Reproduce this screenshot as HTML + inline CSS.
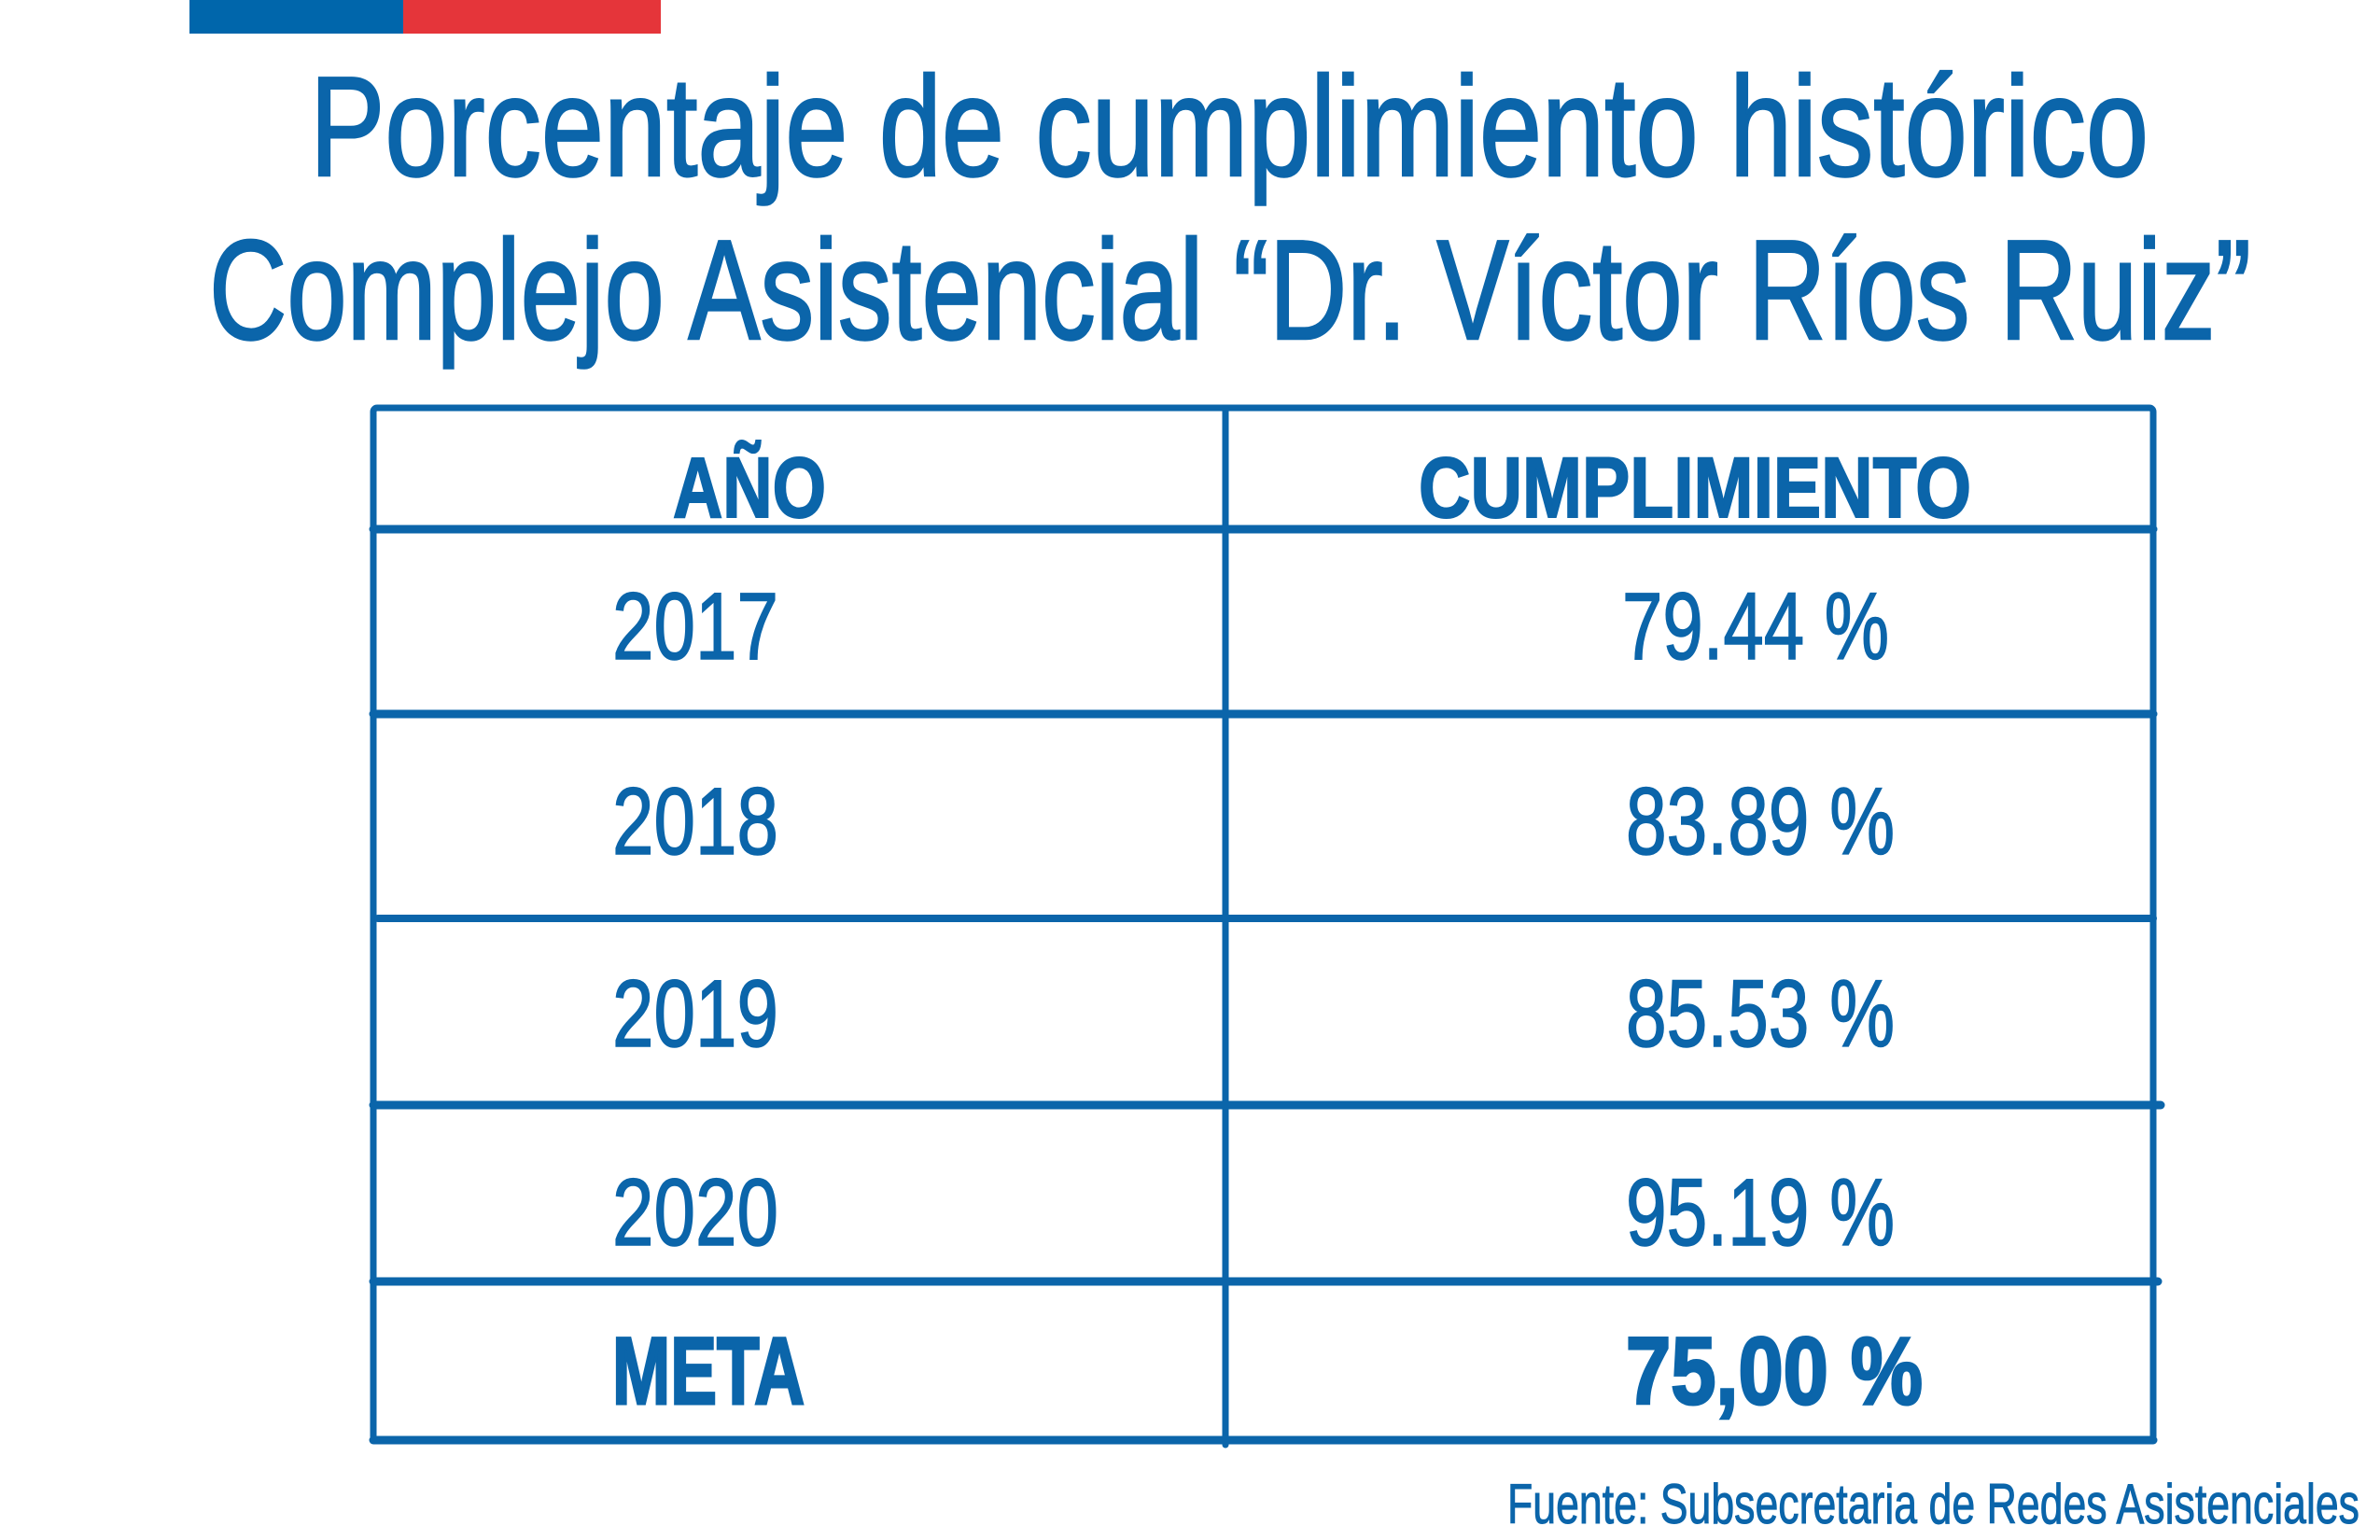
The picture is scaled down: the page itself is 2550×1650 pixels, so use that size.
<!DOCTYPE html>
<html><head><meta charset="utf-8"><style>
html,body{margin:0;padding:0;background:#fff;}
svg{display:block;}
text{font-family:"Liberation Sans",sans-serif;fill:#0b65aa;}
</style></head><body>
<svg width="2550" height="1650" viewBox="0 0 2550 1650" xmlns="http://www.w3.org/2000/svg">
<rect x="203" y="0" width="229" height="36" fill="#0066ab"/>
<rect x="432" y="0" width="276" height="36" fill="#e5353a"/>
<g stroke="#0b65aa" stroke-width="2.5">
<text x="332" y="188" font-size="152" textLength="1970" lengthAdjust="spacingAndGlyphs">Porcentaje de cumplimiento histórico</text>
<text x="224" y="363" font-size="152" textLength="2188" lengthAdjust="spacingAndGlyphs">Complejo Asistencial “Dr. Víctor Ríos Ruiz”</text>
</g>
<g stroke="#0b65aa" stroke-width="7" fill="none" stroke-linecap="round">
<rect x="400" y="437" width="1907" height="1106" rx="4"/>
<line x1="1313" y1="437" x2="1313" y2="1548"/>
<line x1="400" y1="567" x2="2307" y2="567" stroke-width="9"/>
<line x1="400" y1="765" x2="2307" y2="765" stroke-width="9"/>
<line x1="405" y1="984" x2="2307" y2="984" stroke-width="8"/>
<line x1="400" y1="1184" x2="2315" y2="1184" stroke-width="9"/>
<line x1="400" y1="1373" x2="2312" y2="1373" stroke-width="9"/>
<line x1="400" y1="1543" x2="2307" y2="1543" stroke-width="9"/>
</g>
<g stroke="#0b65aa" stroke-width="2">
<text x="721" y="554" font-size="92" font-weight="bold" textLength="164" lengthAdjust="spacingAndGlyphs">AÑO</text>
<text x="1520" y="554" font-size="92" font-weight="bold" textLength="592" lengthAdjust="spacingAndGlyphs">CUMPLIMIENTO</text>
</g>
<g font-size="102" stroke="#0b65aa" stroke-width="1.5">
<text x="656" y="706" textLength="178" lengthAdjust="spacingAndGlyphs">2017</text>
<text x="1738" y="706" textLength="286" lengthAdjust="spacingAndGlyphs">79.44 %</text>
<text x="656" y="915" textLength="178" lengthAdjust="spacingAndGlyphs">2018</text>
<text x="1742" y="915" textLength="288" lengthAdjust="spacingAndGlyphs">83.89 %</text>
<text x="656" y="1121" textLength="178" lengthAdjust="spacingAndGlyphs">2019</text>
<text x="1742" y="1121" textLength="288" lengthAdjust="spacingAndGlyphs">85.53 %</text>
<text x="656" y="1334" textLength="178" lengthAdjust="spacingAndGlyphs">2020</text>
<text x="1742" y="1334" textLength="288" lengthAdjust="spacingAndGlyphs">95.19 %</text>
<text x="656" y="1504" font-weight="bold" stroke-width="3" textLength="206" lengthAdjust="spacingAndGlyphs">META</text>
<text x="1742" y="1504" font-weight="bold" stroke-width="3" textLength="318" lengthAdjust="spacingAndGlyphs">75,00 %</text>
</g>
<text x="1615" y="1632" font-size="60" stroke="#0b65aa" stroke-width="1" textLength="913" lengthAdjust="spacingAndGlyphs">Fuente: Subsecretaria de Redes Asistenciales</text>
</svg>
</body></html>
